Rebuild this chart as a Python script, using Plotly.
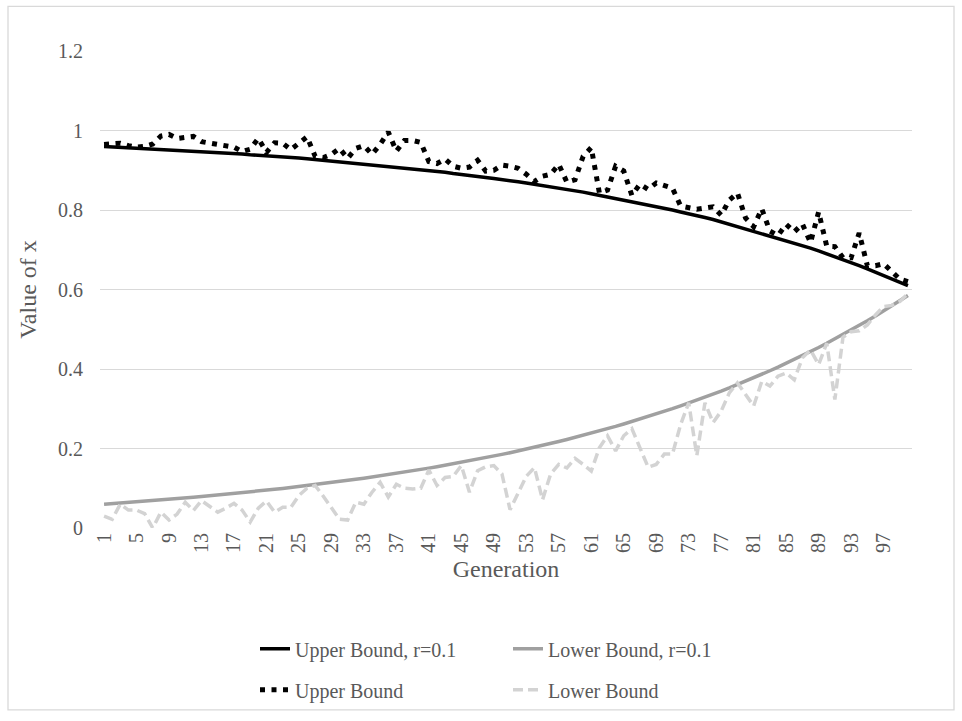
import plotly.graph_objects as go

generation = list(range(1, 101))

upper_r01 = [
    0.960, 0.959, 0.958, 0.957, 0.956, 0.955, 0.954, 0.953, 0.952, 0.951,
    0.950, 0.949, 0.947, 0.946, 0.945, 0.944, 0.942, 0.941, 0.939, 0.938,
    0.937, 0.935, 0.934, 0.932, 0.931, 0.929, 0.927, 0.926, 0.924, 0.922,
    0.920, 0.918, 0.917, 0.915, 0.913, 0.911, 0.908, 0.906, 0.904, 0.902,
    0.900, 0.897, 0.895, 0.892, 0.890, 0.887, 0.885, 0.882, 0.879, 0.877,
    0.874, 0.871, 0.868, 0.865, 0.862, 0.858, 0.855, 0.852, 0.848, 0.845,
    0.841, 0.837, 0.834, 0.830, 0.826, 0.822, 0.818, 0.813, 0.809, 0.805,
    0.800, 0.795, 0.791, 0.786, 0.781, 0.776, 0.770, 0.765, 0.760, 0.754,
    0.748, 0.742, 0.736, 0.730, 0.724, 0.717, 0.711, 0.704, 0.697, 0.690,
    0.683, 0.676, 0.668, 0.660, 0.652, 0.644, 0.636, 0.628, 0.619, 0.610,
]

lower_r01 = [
    0.0600, 0.0614, 0.0628, 0.0643, 0.0658, 0.0673, 0.0689, 0.0705, 0.0721, 0.0738,
    0.0755, 0.0773, 0.0791, 0.0809, 0.0828, 0.0847, 0.0867, 0.0887, 0.0908, 0.0929,
    0.0950, 0.0973, 0.0995, 0.1018, 0.1042, 0.1066, 0.1091, 0.1116, 0.1142, 0.1169,
    0.1196, 0.1224, 0.1253, 0.1282, 0.1311, 0.1342, 0.1373, 0.1405, 0.1438, 0.1471,
    0.1506, 0.1541, 0.1577, 0.1613, 0.1651, 0.1689, 0.1728, 0.1768, 0.1810, 0.1852,
    0.1895, 0.1939, 0.1984, 0.2030, 0.2077, 0.2126, 0.2175, 0.2226, 0.2277, 0.2331,
    0.2385, 0.2440, 0.2497, 0.2555, 0.2615, 0.2676, 0.2738, 0.2801, 0.2866, 0.2933,
    0.3002, 0.3072, 0.3143, 0.3216, 0.3291, 0.3368, 0.3446, 0.3526, 0.3608, 0.3692,
    0.3778, 0.3866, 0.3956, 0.4048, 0.4142, 0.4238, 0.4337, 0.4438, 0.4541, 0.4646,
    0.4755, 0.4866, 0.4979, 0.5094, 0.5213, 0.5334, 0.5458, 0.5585, 0.5715, 0.5848,
]

upper_bound = [
    0.965, 0.967, 0.968, 0.962, 0.958, 0.960, 0.966, 0.986, 0.990, 0.980,
    0.982, 0.985, 0.972, 0.968, 0.965, 0.963, 0.958, 0.947, 0.953, 0.980,
    0.945, 0.969, 0.968, 0.952, 0.968, 0.984, 0.935, 0.932, 0.940, 0.955,
    0.930, 0.955, 0.962, 0.940, 0.965, 0.996, 0.948, 0.975, 0.975, 0.970,
    0.922, 0.917, 0.928, 0.910, 0.905, 0.908, 0.925, 0.898, 0.900, 0.913,
    0.910, 0.905, 0.890, 0.872, 0.885, 0.890, 0.915, 0.870, 0.876, 0.935,
    0.957, 0.843, 0.850, 0.910, 0.898, 0.837, 0.865, 0.852, 0.868, 0.862,
    0.855, 0.810, 0.805, 0.802, 0.805, 0.808, 0.787, 0.825, 0.843, 0.780,
    0.758, 0.803, 0.747, 0.736, 0.764, 0.745, 0.765, 0.718, 0.795, 0.709,
    0.708, 0.680, 0.680, 0.742, 0.660, 0.660, 0.665, 0.645, 0.626, 0.620,
]

lower_bound = [
    0.030, 0.022, 0.060, 0.045, 0.045, 0.036, 0.000, 0.040, 0.020, 0.035,
    0.065, 0.044, 0.069, 0.055, 0.040, 0.050, 0.062, 0.045, 0.015, 0.050,
    0.068, 0.040, 0.052, 0.052, 0.082, 0.100, 0.107, 0.080, 0.052, 0.022,
    0.020, 0.065, 0.060, 0.090, 0.115, 0.078, 0.110, 0.100, 0.098, 0.100,
    0.146, 0.107, 0.127, 0.130, 0.157, 0.090, 0.144, 0.154, 0.157, 0.136,
    0.046, 0.086, 0.130, 0.152, 0.071, 0.136, 0.160, 0.151, 0.175, 0.160,
    0.143, 0.202, 0.232, 0.194, 0.232, 0.250, 0.200, 0.153, 0.160, 0.186,
    0.186, 0.260, 0.315, 0.182, 0.315, 0.265, 0.294, 0.340, 0.365, 0.336,
    0.307, 0.369, 0.357, 0.382, 0.390, 0.373, 0.428, 0.448, 0.411, 0.465,
    0.323, 0.480, 0.494, 0.496, 0.511, 0.536, 0.557, 0.560, 0.570, 0.590,
]

tick_vals = list(range(1, 101, 4))
tick_text = [str(v) for v in tick_vals]

FONT = "Liberation Serif"
TXT = "#595959"

fig = go.Figure()
fig.add_trace(go.Scatter(x=generation, y=upper_r01, mode="lines", name="Upper Bound, r=0.1",
                         line=dict(color="#000000", width=3.5), legend="legend", legendgroup="a"))
fig.add_trace(go.Scatter(x=generation, y=lower_r01, mode="lines", name="Lower Bound, r=0.1",
                         line=dict(color="#a0a0a0", width=3.5), legend="legend2", legendgroup="c"))
fig.add_trace(go.Scatter(x=generation, y=upper_bound, mode="lines", name="Upper Bound",
                         line=dict(color="#000000", width=5, dash="5px,6.5px"), legend="legend", legendgroup="b"))
fig.add_trace(go.Scatter(x=generation, y=lower_bound, mode="lines", name="Lower Bound",
                         line=dict(color="#d3d3d3", width=3.5, dash="10px,5px"), legend="legend2", legendgroup="d"))

L, R, T, B = 100, 50, 51, 190
PW, PH = 962 - L - R, 721 - T - B

def px_x(p):
    return (p - L) / PW

def px_y(p):
    return (721 - B - p) / PH

legend_common = dict(font=dict(family=FONT, size=20, color=TXT), bgcolor="rgba(0,0,0,0)",
                     orientation="v", xanchor="left", yanchor="top", tracegroupgap=12,
                     itemwidth=30)

fig.update_layout(
    width=962, height=721,
    margin=dict(l=L, r=R, t=T, b=B),
    paper_bgcolor="white", plot_bgcolor="white",
    font=dict(family=FONT, color=TXT),
    legend=dict(x=px_x(255), y=px_y(633), **legend_common),
    legend2=dict(x=px_x(508), y=px_y(633), **legend_common),
    xaxis=dict(
        range=[0.5, 100.5], tickmode="array", tickvals=tick_vals, ticktext=tick_text,
        tickangle=-90, tickfont=dict(family=FONT, size=20, color=TXT),
        showgrid=False, zeroline=False, showline=False, ticks="",
        title=dict(text="Generation", font=dict(family=FONT, size=24, color=TXT), standoff=8),
    ),
    yaxis=dict(
        range=[0, 1.2], tickvals=[0, 0.2, 0.4, 0.6, 0.8, 1.0, 1.2],
        ticktext=["0", "0.2", "0.4", "0.6", "0.8", "1", "1.2"],
        tickfont=dict(family=FONT, size=20, color=TXT),
        showgrid=True, gridcolor="#d9d9d9", gridwidth=1.3, zeroline=False, showline=False,
        ticks="", ticklabelstandoff=16,
        title=dict(text="Value of x", font=dict(family=FONT, size=24, color=TXT), standoff=14),
    ),
    shapes=[dict(type="rect", xref="paper", yref="paper",
                 x0=px_x(8), x1=px_x(954), y0=px_y(714), y1=px_y(6),
                 line=dict(color="#d9d9d9", width=1.3), fillcolor="rgba(0,0,0,0)", layer="below")],
)

fig.write_html("out.html")
